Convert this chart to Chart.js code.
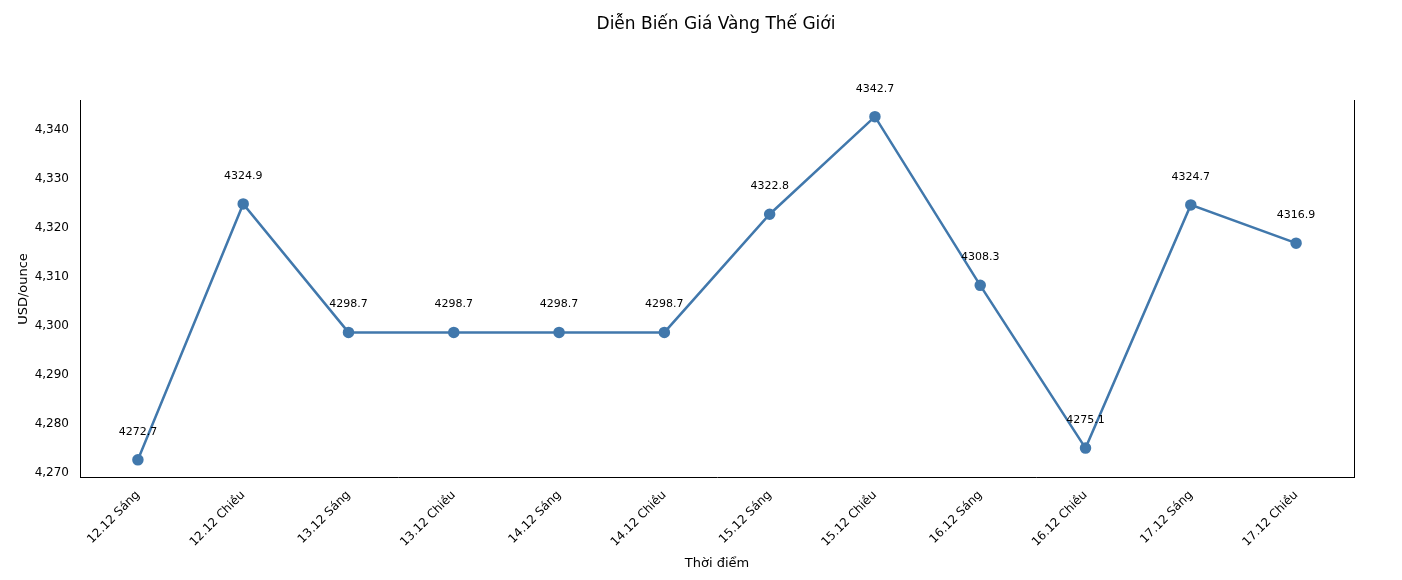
<!DOCTYPE html>
<html><head><meta charset="utf-8">
<script src="https://cdn.jsdelivr.net/npm/chart.js@4"></script>
<style>html,body{margin:0;padding:0;background:#fff}#w{width:1402px;height:580px}</style>
</head><body><div id="w"><canvas id="c"></canvas></div>
<script>
const categories=["12.12 Sáng","12.12 Chiều","13.12 Sáng","13.12 Chiều","14.12 Sáng","14.12 Chiều","15.12 Sáng","15.12 Chiều","16.12 Sáng","16.12 Chiều","17.12 Sáng","17.12 Chiều"];
const prices=[4272.7,4324.9,4298.7,4298.7,4298.7,4298.7,4322.8,4342.7,4308.3,4275.1,4324.7,4316.9];
const yTicks=[4270,4280,4290,4300,4310,4320,4330,4340];
const FONT="DejaVu Sans";
Chart.defaults.font.family=FONT;
const deco={id:'deco',afterDraw(ch){
  const c=ch.ctx,a=ch.chartArea;
  c.save();
  c.strokeStyle='#000';c.lineWidth=1;
  c.beginPath();c.moveTo(a.right+0.5,a.top);c.lineTo(a.right+0.5,a.bottom);c.stroke();
  c.fillStyle='#000';c.textAlign='center';c.textBaseline='middle';
  c.font='17px '+FONT;c.fillText('Diễn Biến Giá Vàng Thế Giới',716,25);
  c.font='13px '+FONT;c.fillText('Thời điểm',717,564);
  c.save();c.translate(24,289);c.rotate(-Math.PI/2);c.fillText('USD/ounce',0,0);c.restore();
  c.font='11px '+FONT;
  const m=ch.getDatasetMeta(0);
  m.data.forEach((p,i)=>c.fillText(prices[i].toFixed(1),p.x,p.y-28));
  c.restore();
}};
new Chart(document.getElementById('c'),{
 type:'line',
 data:{datasets:[{data:prices.map((v,i)=>({x:i,y:v})),borderColor:'#4178ac',backgroundColor:'#4178ac',borderWidth:2.5,pointRadius:4.5,pointHoverRadius:4.5,tension:0}]},
 options:{responsive:true,maintainAspectRatio:false,animation:false,
  layout:{padding:{top:100,right:48,left:0,bottom:0}},
  plugins:{legend:{display:false},title:{display:false},tooltip:{enabled:false}},
  scales:{
   x:{type:'linear',min:-0.55,max:11.55,grid:{display:false,drawTicks:true},border:{display:true,color:'#000'},
      afterBuildTicks(s){s.ticks=categories.map((_,i)=>({value:i}));},
      afterFit(s){s.height=103;},
      ticks:{color:'#000',font:{size:12},minRotation:45,maxRotation:45,autoSkip:false,callback:(v)=>categories[v]}},
   y:{min:4269.2,max:4346.1,grid:{display:false},border:{display:true,color:'#000'},
      afterBuildTicks(s){s.ticks=yTicks.map(v=>({value:v}));},
      afterFit(s){s.width=80;},
      ticks:{color:'#000',font:{size:12},autoSkip:false}}
  }},
 plugins:[deco]
});
</script></body></html>
